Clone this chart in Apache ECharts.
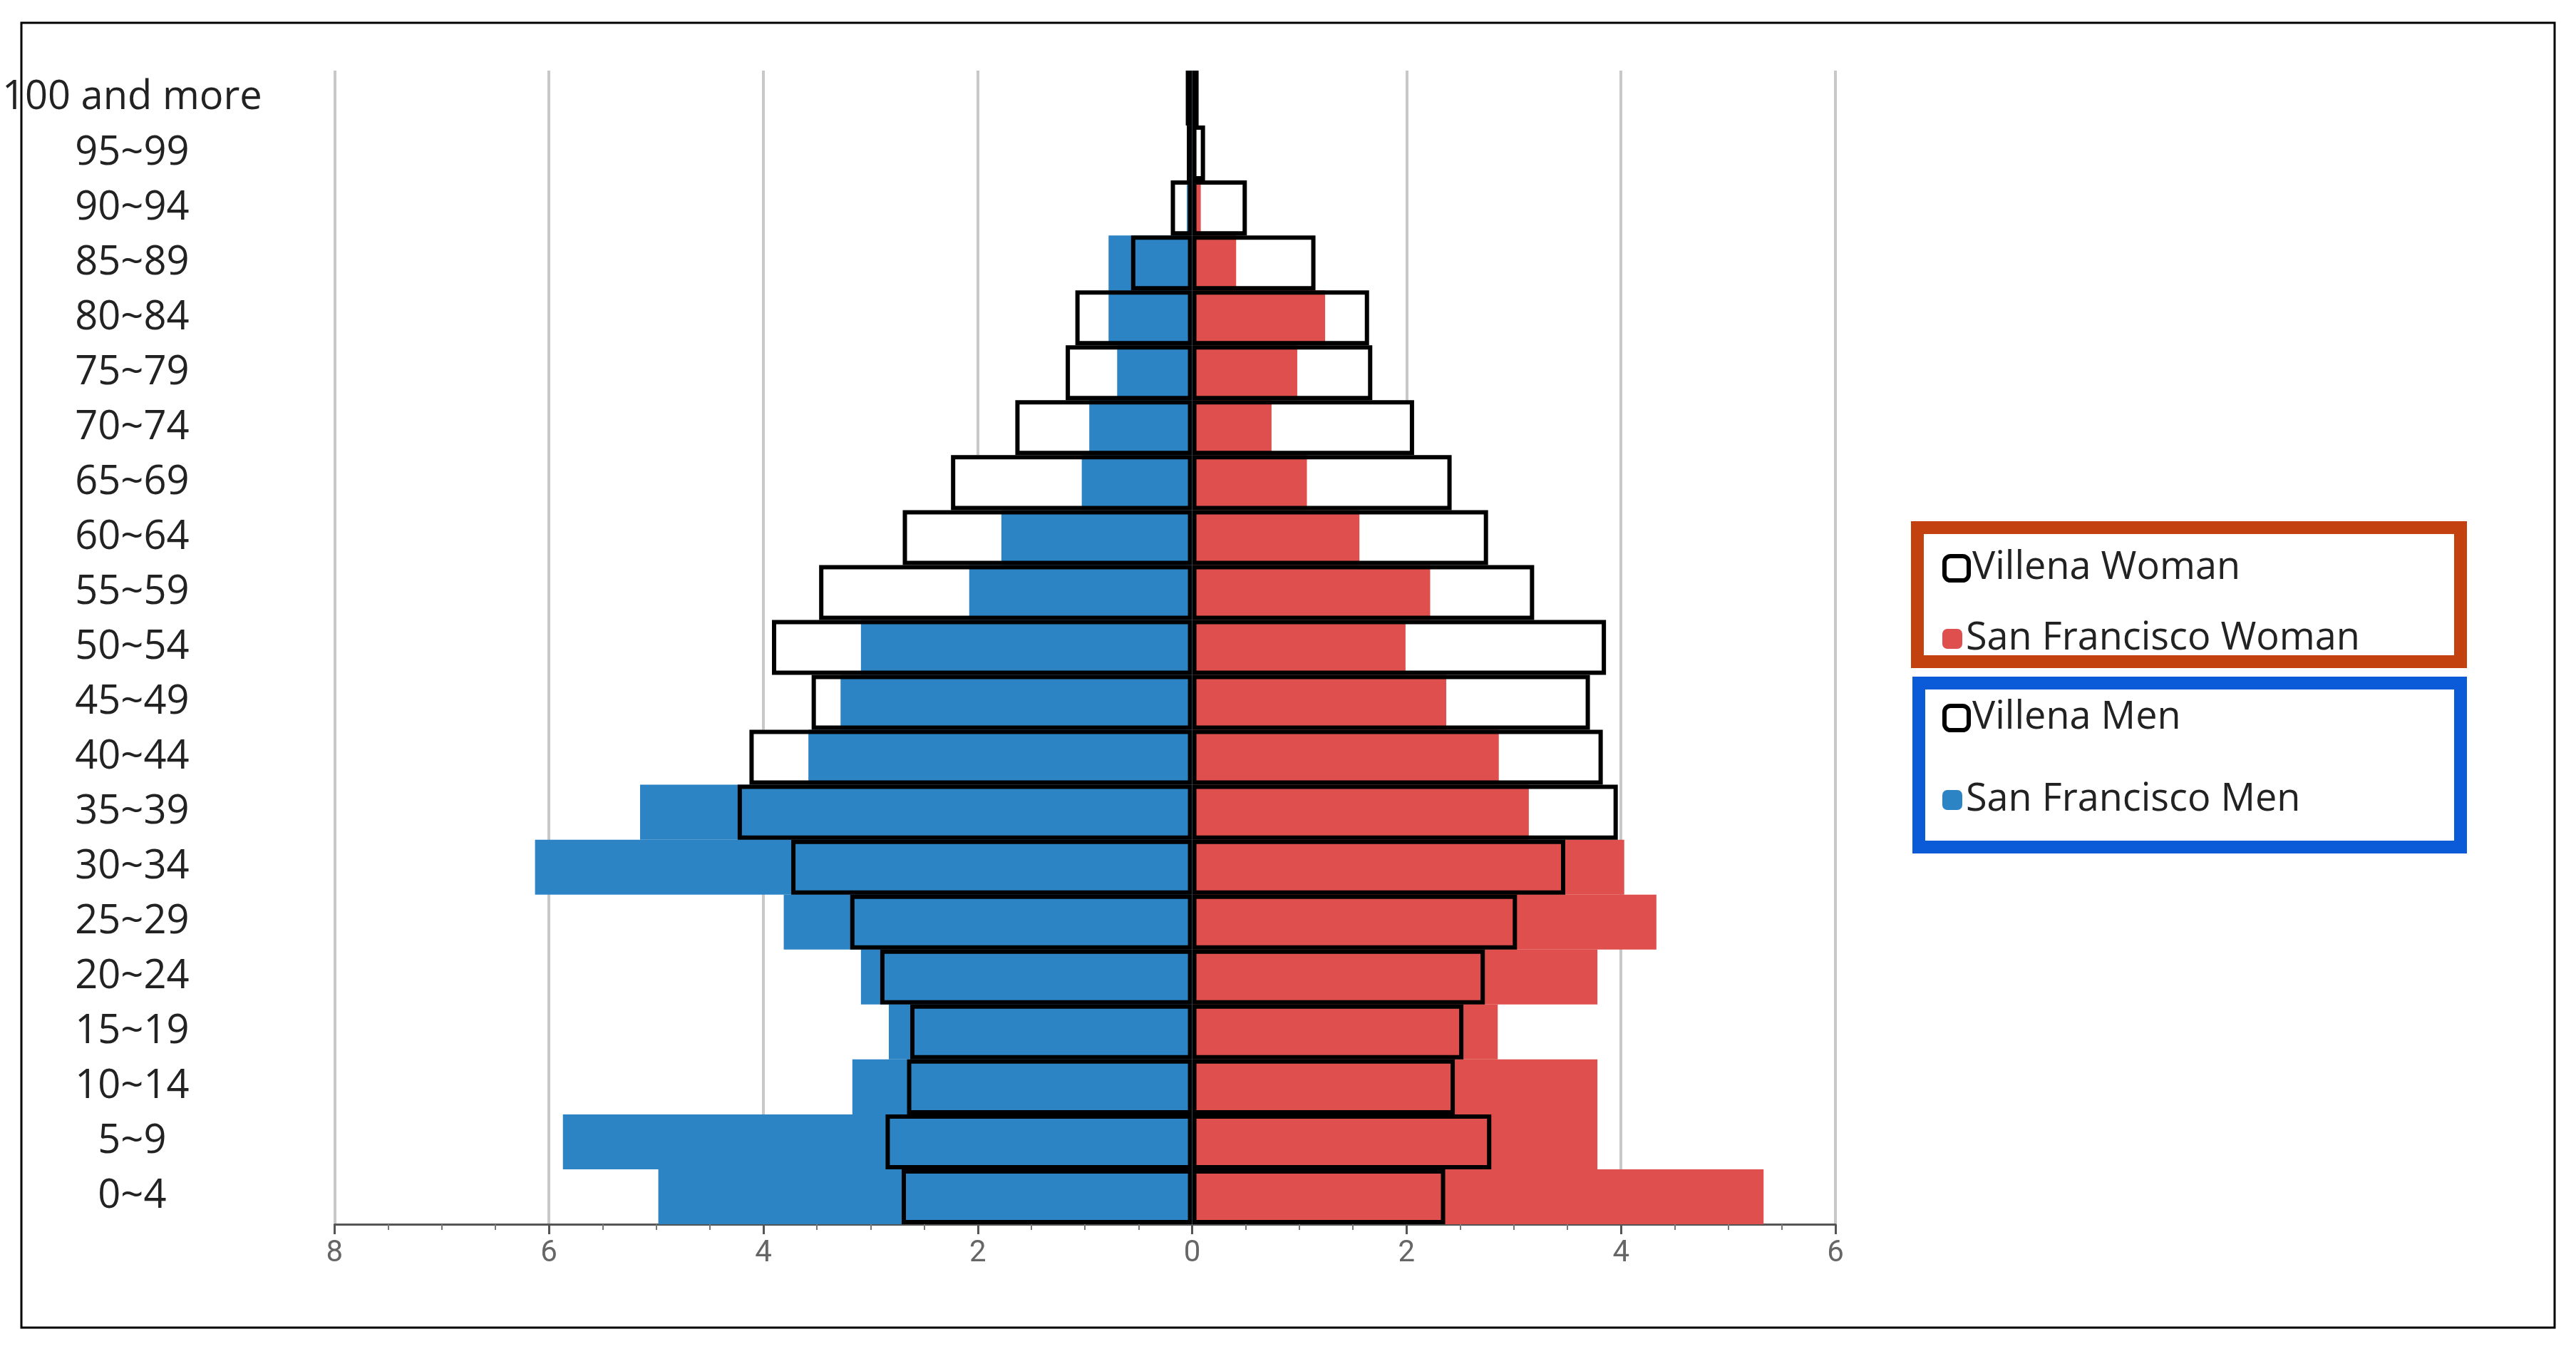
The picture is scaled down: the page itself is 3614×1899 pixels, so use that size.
<!DOCTYPE html>
<html><head><meta charset="utf-8">
<script src="https://cdn.jsdelivr.net/npm/echarts@6/dist/echarts.min.js"></script>
<style>html,body{margin:0;background:#fff}#c{width:3614px;height:1899px}</style>
</head><body><div id="c"></div>
<script>
const categories = ['0~4','5~9','10~14','15~19','20~24','25~29','30~34','35~39','40~44','45~49','50~54','55~59','60~64','65~69','70~74','75~79','80~84','85~89','90~94','95~99','100 and more'];
const sfMen = [4.98,5.87,3.17,2.83,3.09,3.81,6.13,5.15,3.58,3.28,3.09,2.08,1.78,1.03,0.96,0.70,0.78,0.78,0.05,0.02,0.02];
const villenaMen = [2.71,2.86,2.66,2.63,2.91,3.19,3.74,4.24,4.13,3.55,3.92,3.48,2.70,2.25,1.65,1.18,1.09,0.57,0.20,0.05,0.06];
const sfWoman = [5.33,3.78,3.78,2.85,3.78,4.33,4.03,3.14,2.86,2.37,1.99,2.22,1.56,1.07,0.74,0.98,1.24,0.41,0.08,0.03,0.02];
const villenaWoman = [2.36,2.79,2.45,2.53,2.73,3.03,3.48,3.97,3.83,3.71,3.86,3.19,2.76,2.42,2.07,1.68,1.65,1.15,0.51,0.12,0.06];
const xTicks = {min:-8, max:6, interval:2};

const RED = '#de4f4d', BLUE = '#2c84c5';
const neg = a => a.map(v => -v);
const base = {type:'bar', barGap:'-100%', barCategoryGap:'0%', silent:true};
const fill = (name,d) => Object.assign({}, base, {name, data:d, itemStyle:{color:'#fff'}});
const col = (name,d,c) => Object.assign({}, base, {name, data:d, itemStyle:{color:c}});
const outl = (name,d) => Object.assign({}, base, {name, data:d, itemStyle:{color:'rgba(0,0,0,0)', borderColor:'#000', borderWidth:6}});

const chart = echarts.init(document.getElementById('c'));
const legendBase = {orient:'vertical', itemWidth:34, itemHeight:34, textStyle:{fontSize:54, color:'#222', fontFamily:'Open Sans'}, selectedMode:false};
chart.setOption({
  animation:false,
  grid:{left:468, right:3614-2575, top:99, bottom:1899-1717},
  xAxis:{type:'value', min:xTicks.min, max:xTicks.max, interval:xTicks.interval,
    axisLine:{show:true, lineStyle:{color:'#555', width:3}},
    axisTick:{show:true, length:14, lineStyle:{color:'#555', width:3}},
    minorTick:{show:true, splitNumber:4, length:8, lineStyle:{color:'#777', width:2}},
    splitLine:{show:true, lineStyle:{color:'#c8c8c8', width:4}},
    axisLabel:{formatter:v => Math.abs(v), fontSize:42, color:'#666', margin:20, fontFamily:'Roboto'}},
  yAxis:{type:'category', data:categories, axisLine:{show:false}, axisTick:{show:false},
    axisLabel:{fontSize:56, color:'#222', align:'center', margin:284, fontFamily:'Open Sans'}},
  legend:[
    Object.assign({}, legendBase, {left:2720, top:765, data:[{name:'Villena Woman', itemStyle:{color:'#fff', borderColor:'#000', borderWidth:6}}]}),
    Object.assign({}, legendBase, {left:2720, top:864, itemWidth:28, itemHeight:28, data:['San Francisco Woman']}),
    Object.assign({}, legendBase, {left:2720, top:975, data:[{name:'Villena Men', itemStyle:{color:'#fff', borderColor:'#000', borderWidth:6}}]}),
    Object.assign({}, legendBase, {left:2720, top:1090, itemWidth:28, itemHeight:28, data:['San Francisco Men']})
  ],
  graphic:[
    {type:'rect', shape:{x:30,y:32,width:3554,height:1830}, style:{fill:'none', stroke:'#000', lineWidth:3}, z:0},
    {type:'rect', shape:{x:2690,y:740,width:762,height:188}, style:{fill:'none', stroke:'#c2410e', lineWidth:18}},
    {type:'rect', shape:{x:2692,y:958,width:760,height:230}, style:{fill:'none', stroke:'#0b5ad8', lineWidth:18}}
  ],
  series:[
    fill('vwFill', villenaWoman),
    col('San Francisco Woman', sfWoman, RED),
    outl('Villena Woman', villenaWoman),
    fill('vmFill', neg(villenaMen)),
    col('San Francisco Men', neg(sfMen), BLUE),
    outl('Villena Men', neg(villenaMen))
  ]
});
</script></body></html>
